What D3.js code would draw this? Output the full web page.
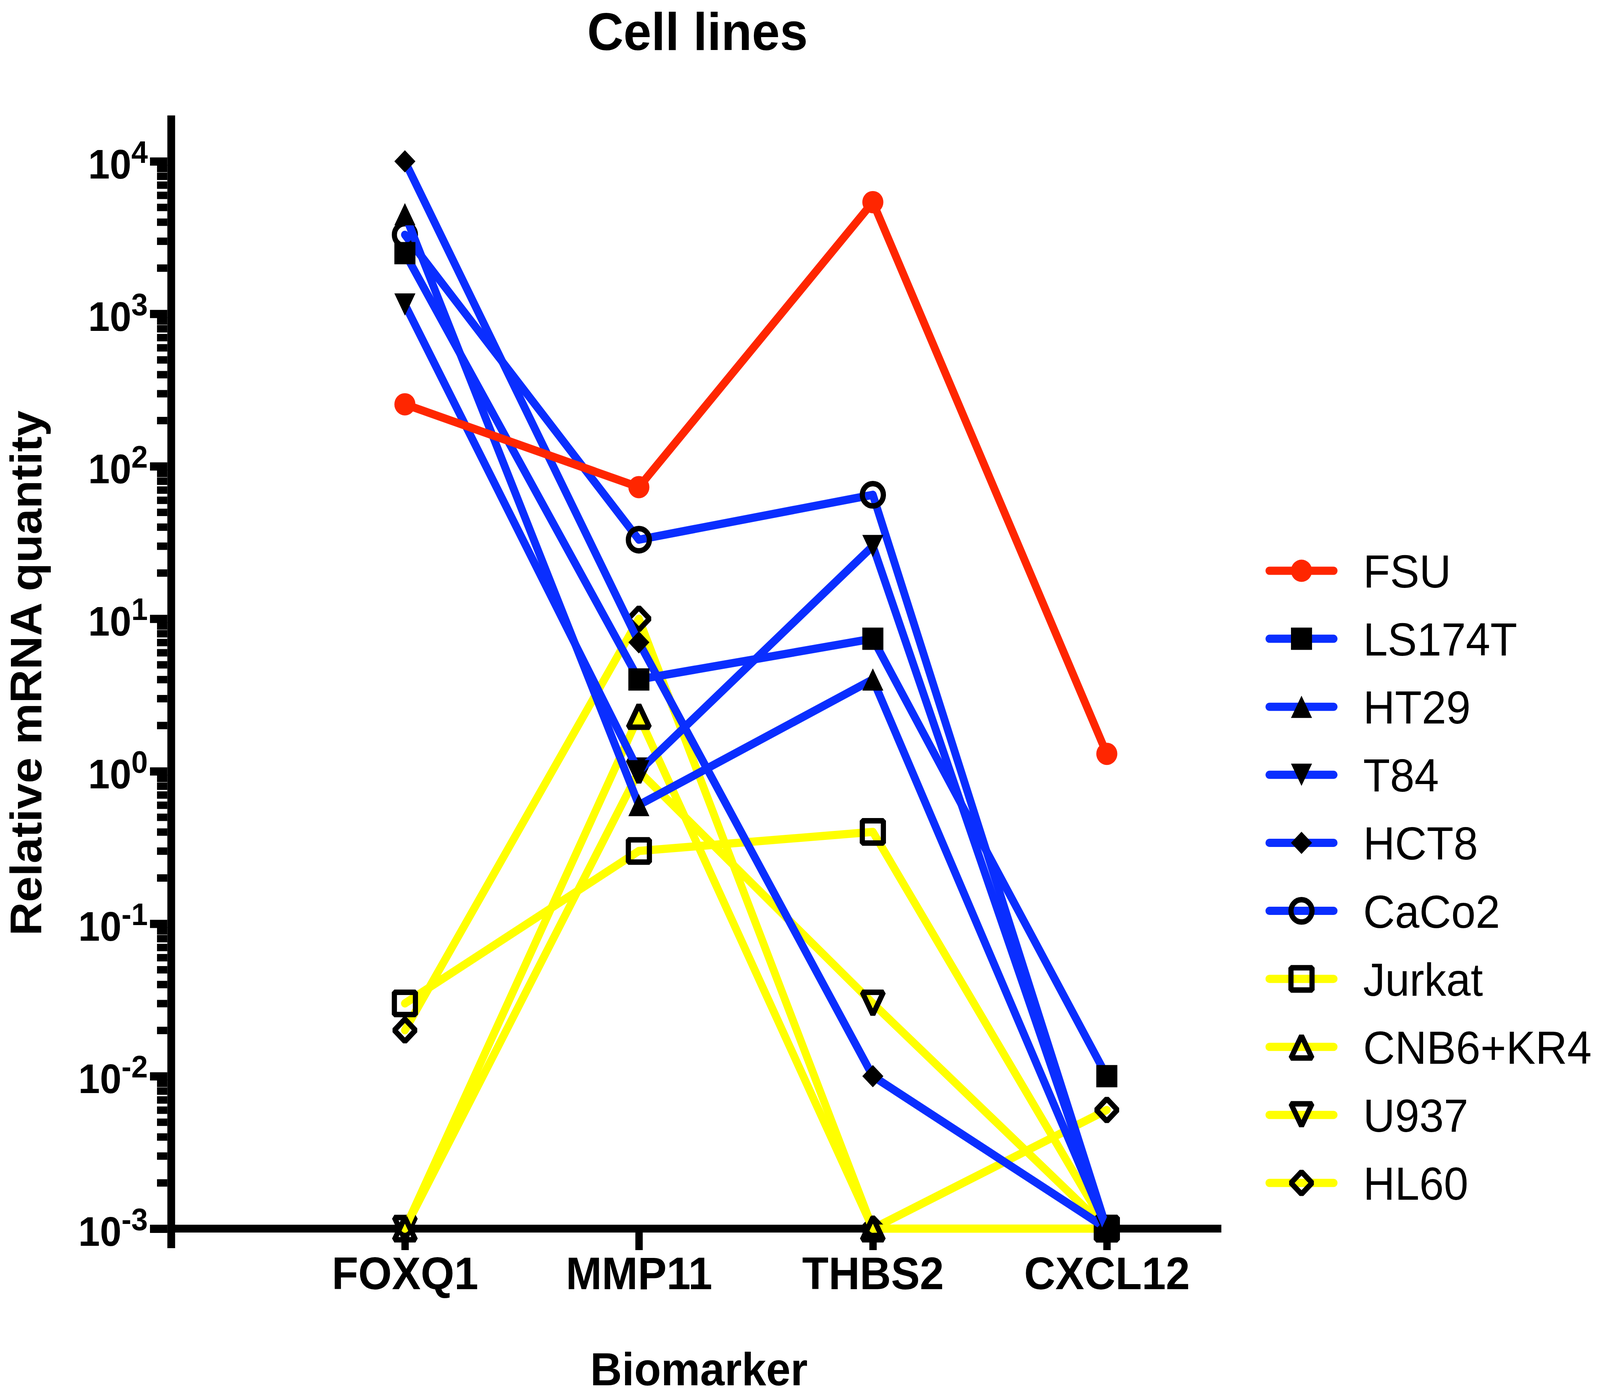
<!DOCTYPE html>
<html>
<head>
<meta charset="utf-8">
<script src="https://cdn.jsdelivr.net/npm/d3@7"></script>
<style>
  html, body { margin: 0; padding: 0; background: #fff; overflow: hidden; width: 100%; height: 100%; }
  svg { display: block; width: 100vw; height: 100vh; }
  text { font-family: "Liberation Sans", Arial, Helvetica, sans-serif; }
</style>
</head>
<body>
<svg id="chart" viewBox="0 0 4331 3576" preserveAspectRatio="none"></svg>
<script>
// ---------- data ----------
const categories = ["FOXQ1", "MMP11", "THBS2", "CXCL12"];
const seriesNames = ["FSU", "LS174T", "HT29", "T84", "HCT8", "CaCo2", "Jurkat", "CNB6+KR4", "U937", "HL60"];
const FSU      = [255, 73, 5400, 1.3];
const LS174T   = [2500, 4.0, 7.4, 0.01];
const HT29     = [4500, 0.6, 4.0, 0.001];
const T84      = [1150, 1.0, 30, 0.001];
const HCT8     = [10000, 7.0, 0.01, 0.001];
const CaCo2    = [3300, 33, 65, 0.001];
const Jurkat   = [0.03, 0.3, 0.4, 0.001];
const CNB6KR4  = [0.001, 2.3, 0.001, 0.001];
const U937     = [0.001, 1.0, 0.03, 0.001];
const HL60     = [0.02, 10, 0.001, 0.006];
const seriesValues = [FSU, LS174T, HT29, T84, HCT8, CaCo2, Jurkat, CNB6KR4, U937, HL60];
const majorTicks = [1e-3, 1e-2, 1e-1, 1e0, 1e1, 1e2, 1e3, 1e4];
const title = "Cell lines";
const xTitle = "Biomarker";
const yTitle = "Relative mRNA quantity";

// ---------- styles ----------
const RED = "#FF2600", BLUE = "#0A2EFF", YELLOW = "#FFFF00";
const seriesStyle = [
  {color: RED,    shape: "circle",       open: false, fill: RED},
  {color: BLUE,   shape: "square",       open: false, fill: "#000"},
  {color: BLUE,   shape: "triangle",     open: false, fill: "#000"},
  {color: BLUE,   shape: "triangleDown", open: false, fill: "#000"},
  {color: BLUE,   shape: "diamond",      open: false, fill: "#000"},
  {color: BLUE,   shape: "circle",       open: true},
  {color: YELLOW, shape: "square",       open: true},
  {color: YELLOW, shape: "triangle",     open: true},
  {color: YELLOW, shape: "triangleDown", open: true},
  {color: YELLOW, shape: "diamond",      open: true}
];

const svg = d3.select("#chart");
svg.append("rect").attr("width", 4331).attr("height", 3576).attr("fill", "#fff");

const x = d3.scalePoint().domain(categories).range([1096, 2996]);
const y = d3.scaleLog().domain([1e-3, 1e4]).range([3145, 413]);

const axisX = 463.5;      // y-axis line centre
const axisTop = y(2e4);
const axisBottom = y(7.45e-4);
const xAxisRight = 3306;

// minor ticks
const minorTicks = [];
for (let e = -3; e < 4; e++) for (let k = 2; k <= 9; k++) minorTicks.push(k * Math.pow(10, e));

// ---------- y axis ----------
const gyMinor = svg.append("g").attr("transform", "translate(453,0)")
  .call(d3.axisLeft(y).tickValues(minorTicks).tickSize(28).tickSizeOuter(0).tickFormat(""));
gyMinor.select(".domain").remove();
gyMinor.selectAll(".tick line").attr("stroke", "#000").attr("stroke-width", 19);

const gy = svg.append("g").attr("transform", "translate(453,0)")
  .call(d3.axisLeft(y).tickValues(majorTicks).tickSize(47).tickSizeOuter(0).tickPadding(6));
gy.select(".domain").remove();
gy.selectAll(".tick line").attr("stroke", "#000").attr("stroke-width", 21);
gy.selectAll(".tick text")
  .attr("fill", "#000")
  .attr("font-size", 105)
  .attr("font-weight", "bold")
  .attr("text-anchor", "end")
  .attr("dy", 43)
  .each(function(d) {
    const ex = Math.round(Math.log10(d));
    const t = d3.select(this);
    t.text(null);
    t.append("tspan").text("10");
    t.append("tspan").attr("dy", -40).attr("font-size", 80).text(String(ex));
  });

svg.append("line")
  .attr("x1", axisX).attr("x2", axisX)
  .attr("y1", axisTop).attr("y2", axisBottom)
  .attr("stroke", "#000").attr("stroke-width", 21);

// ---------- x axis ----------
const gx = svg.append("g").attr("transform", "translate(0,3155)")
  .call(d3.axisBottom(x).tickSize(45).tickSizeOuter(0));
gx.select(".domain").remove();
gx.selectAll(".tick line").attr("stroke", "#000").attr("stroke-width", 20);
gx.selectAll(".tick text")
  .attr("fill", "#000")
  .attr("font-size", 117)
  .attr("font-weight", "bold")
  .attr("y", 145)
  .attr("dy", 0);

svg.append("line")
  .attr("x1", 453).attr("x2", xAxisRight)
  .attr("y1", y(1e-3)).attr("y2", y(1e-3))
  .attr("stroke", "#000").attr("stroke-width", 20);

// ---------- titles ----------
svg.append("text").attr("x", 1888).attr("y", 128)
  .attr("text-anchor", "middle").attr("font-size", 136).attr("font-weight", "bold").text(title);
svg.append("text").attr("x", 1892).attr("y", 3546)
  .attr("text-anchor", "middle").attr("font-size", 119).attr("font-weight", "bold").text(xTitle);
svg.append("text").attr("transform", "translate(112,1723) rotate(-90)")
  .attr("text-anchor", "middle").attr("font-size", 119).attr("font-weight", "bold").text(yTitle);

// ---------- marker shapes ----------
function shapePath(shape, s) {
  const h = s / 2;
  switch (shape) {
    case "circle": { const p = d3.path(); p.moveTo(h, 0); p.arc(0, 0, h, 0, 2 * Math.PI); p.closePath(); return p.toString(); }
    case "square": return `M${-h},${-h}H${h}V${h}H${-h}Z`;
    case "triangle": return `M0,${-h}L${h},${h}L${-h},${h}Z`;
    case "triangleDown": return `M0,${h}L${h},${-h}L${-h},${-h}Z`;
    case "diamond": return `M0,${-h}L${h},0L0,${h}L${-h},0Z`;
  }
}
function styleMarker(sel, st) {
  if (st.open) {
    sel.attr("d", shapePath(st.shape, 57)).attr("fill", "none")
       .attr("stroke", "#000").attr("stroke-width", 14).attr("stroke-linejoin", "bevel");
  } else {
    sel.attr("d", shapePath(st.shape, 57)).attr("fill", st.fill).attr("stroke", "none");
  }
}

// ---------- data series (drawn last series first) ----------
const line = d3.line().x((d, i) => x(categories[i])).y(d => y(d));
const dataG = svg.append("g");
for (let s = seriesNames.length - 1; s >= 0; s--) {
  const st = seriesStyle[s];
  const g = dataG.append("g").attr("class", "series");
  g.append("path").datum(seriesValues[s]).attr("d", line)
    .attr("fill", "none").attr("stroke", st.color).attr("stroke-width", 21)
    .attr("stroke-linejoin", "round").attr("stroke-linecap", "round");
  g.selectAll("path.m").data(seriesValues[s]).join("path").attr("class", "m")
    .attr("transform", (d, i) => `translate(${x(categories[i])},${y(d)})`)
    .call(styleMarker, st);
}

// ---------- legend ----------
const legY = d3.scaleLinear().domain([0, seriesNames.length - 1]).range([1461, 3028]);
const leg = svg.append("g");
seriesNames.forEach((name, i) => {
  const st = seriesStyle[i];
  const yy = legY(i);
  leg.append("line").attr("x1", 3436).attr("x2", 3610).attr("y1", yy).attr("y2", yy)
    .attr("stroke", st.color).attr("stroke-width", 21).attr("stroke-linecap", "round");
  leg.append("path").attr("transform", `translate(3523,${yy})`).call(styleMarker, st);
  leg.append("text").attr("x", 3690).attr("y", yy + 43)
    .attr("font-size", 119).attr("fill", "#000").text(name);
});
</script>
</body>
</html>
